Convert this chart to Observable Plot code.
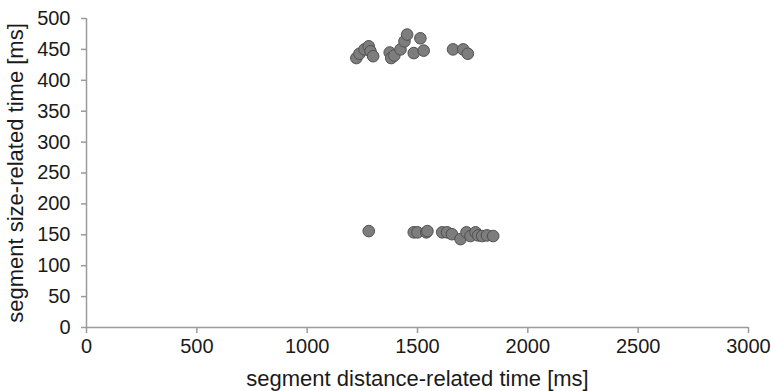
<!DOCTYPE html>
<html>
<head>
<meta charset="utf-8">
<script src="https://cdn.jsdelivr.net/npm/d3@7"></script>
<script src="https://cdn.jsdelivr.net/npm/@observablehq/plot@0.6"></script>
<style>
  html, body { margin: 0; padding: 0; background: #fff; }
  #chart { width: 771px; height: 391px; }
</style>
</head>
<body>
<div id="chart"></div>
<script>
// Upper cluster (≈440–475 ms size-related time)
const upperDistance = [1223, 1237, 1260, 1279, 1287, 1299, 1374, 1381, 1395, 1423, 1441, 1453, 1513, 1483, 1528, 1661, 1707, 1728];
const upperSize     = [ 436,  443,  450,  455,  447,  439,  445,  436,  440,  450,  463,  474,  468,  444,  448,  450,  450,  443];
// Lower cluster (≈145–157 ms size-related time)
const lowerDistance = [1279, 1483, 1500, 1540, 1545, 1612, 1634, 1656, 1695, 1722, 1740, 1763, 1775, 1793, 1815, 1843];
const lowerSize     = [ 156,  154,  154,  154,  156,  154,  154,  151,  143,  154,  148,  154,  149,  148,  149,  148];

const xTicks = [0, 500, 1000, 1500, 2000, 2500, 3000];
const yTicks = [0, 50, 100, 150, 200, 250, 300, 350, 400, 450, 500];
const xLabel = "segment distance-related time [ms]";
const yLabel = "segment size-related time [ms]";

const points = [
  ...upperDistance.map((d, i) => ({distance: d, size: upperSize[i]})),
  ...lowerDistance.map((d, i) => ({distance: d, size: lowerSize[i]}))
];

const axisGray = "#9a9a9a";
const textColor = "#1a1a1a";

const chart = Plot.plot({
  width: 771,
  height: 391,
  marginLeft: 86,
  marginRight: 23,
  marginTop: 18,
  marginBottom: 64,
  style: {fontFamily: "'Liberation Sans', Arial, sans-serif", color: textColor, background: "#fff"},
  x: {domain: [0, 3000]},
  y: {domain: [0, 500]},
  marks: [
    Plot.axisX({ticks: xTicks, tickSize: 6, tickPadding: 5, stroke: axisGray, strokeWidth: 1.5, fontSize: 20,
      tickFormat: d => String(d), label: null}),
    Plot.axisY({ticks: yTicks, tickSize: 5, tickPadding: 11, stroke: axisGray, strokeWidth: 1.5, fontSize: 20,
      tickFormat: d => String(d), label: null}),
    Plot.ruleY([0], {stroke: axisGray, strokeWidth: 1.5}),
    Plot.ruleX([0], {stroke: axisGray, strokeWidth: 1.5}),
    Plot.text([xLabel], {text: d => d, frameAnchor: "bottom", textAnchor: "middle", dy: 51, fontSize: 22, lineAnchor: "middle", fill: textColor}),
    Plot.text([yLabel], {text: d => d, frameAnchor: "left", textAnchor: "middle", dx: -71, rotate: -90, fontSize: 22, lineAnchor: "middle", fill: textColor}),
    Plot.dot(points, {x: "distance", y: "size", r: 5.8, fill: "#7d7d7d", stroke: "#505050", strokeWidth: 1})
  ]
});
document.getElementById("chart").appendChild(chart);
</script>
</body>
</html>
